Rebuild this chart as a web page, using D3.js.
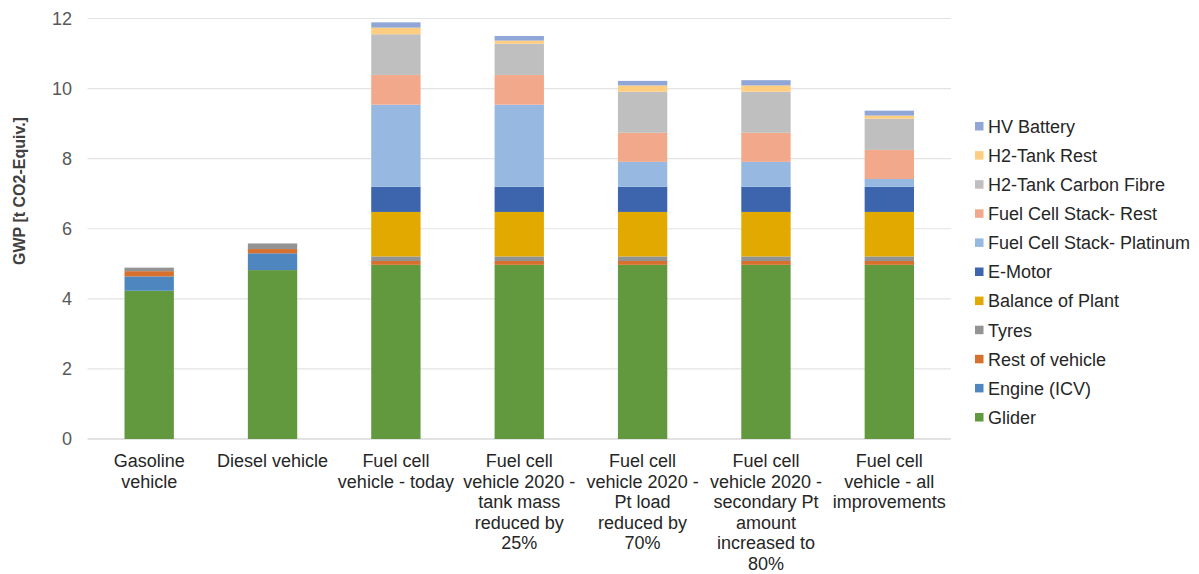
<!DOCTYPE html>
<html>
<head>
<meta charset="utf-8">
<script src="https://cdn.jsdelivr.net/npm/d3@7"></script>
<style>
  html, body { margin: 0; padding: 0; background: #fff; }
  svg { display: block; font-family: "Liberation Sans", Arial, sans-serif; }
</style>
</head>
<body>
<svg id="chart" width="1199" height="574"></svg>
<script>
// Vehicle variants (x axis), label lines split for wrapping
const categories = [
  ["Gasoline", "vehicle"],
  ["Diesel vehicle"],
  ["Fuel cell", "vehicle - today"],
  ["Fuel cell", "vehicle 2020 -", "tank mass", "reduced by", "25%"],
  ["Fuel cell", "vehicle 2020 -", "Pt load", "reduced by", "70%"],
  ["Fuel cell", "vehicle 2020 -", "secondary Pt", "amount", "increased to", "80%"],
  ["Fuel cell", "vehicle - all", "improvements"]
];

// Component contributions, t CO2-equiv., stacked bottom to top
const glider       = [4.23, 4.82, 4.97, 4.97, 4.97, 4.97, 4.97];
const engineICV    = [0.41, 0.48, 0, 0, 0, 0, 0];
const restVehicle  = [0.15, 0.12, 0.11, 0.11, 0.11, 0.11, 0.11];
const tyres        = [0.10, 0.16, 0.13, 0.13, 0.13, 0.13, 0.13];
const balancePlant = [0, 0, 1.27, 1.27, 1.27, 1.27, 1.27];
const eMotor       = [0, 0, 0.72, 0.72, 0.72, 0.72, 0.72];
const fcPlatinum   = [0, 0, 2.34, 2.34, 0.71, 0.71, 0.22];
const fcRest       = [0, 0, 0.85, 0.85, 0.83, 0.83, 0.83];
const h2Carbon     = [0, 0, 1.16, 0.89, 1.17, 1.17, 0.89];
const h2Rest       = [0, 0, 0.19, 0.09, 0.18, 0.18, 0.09];
const hvBattery    = [0, 0, 0.15, 0.13, 0.13, 0.15, 0.14];

const seriesNames = ["Glider", "Engine (ICV)", "Rest of vehicle", "Tyres", "Balance of Plant",
  "E-Motor", "Fuel Cell Stack- Platinum", "Fuel Cell Stack- Rest", "H2-Tank Carbon Fibre",
  "H2-Tank Rest", "HV Battery"];
const seriesValues = [glider, engineICV, restVehicle, tyres, balancePlant, eMotor,
  fcPlatinum, fcRest, h2Carbon, h2Rest, hvBattery];
const seriesColors = ["#62993e", "#4e86c0", "#d6702c", "#939393", "#e2a900", "#3c65ad",
  "#97b8e0", "#f1a88b", "#bfbfbf", "#ffcd80", "#8fa6d7"];

const yTicks = [0, 2, 4, 6, 8, 10, 12];

// Build table rows for d3.stack
const rows = categories.map((c, i) => {
  const r = { idx: i };
  seriesNames.forEach((n, s) => { r[n] = seriesValues[s][i]; });
  return r;
});

const svg = d3.select("#chart");
const plot = { left: 87.5, right: 951, top: 18.5, bottom: 439 };

const x = d3.scaleBand()
  .domain(d3.range(categories.length))
  .range([plot.left, plot.right])
  .paddingInner(0.6)
  .paddingOuter(0.3);

const y = d3.scaleLinear().domain([0, 12]).range([plot.bottom, plot.top]);

// Gridlines
svg.append("g").selectAll("line")
  .data(yTicks)
  .join("line")
  .attr("x1", plot.left).attr("x2", plot.right)
  .attr("y1", d => y(d)).attr("y2", d => y(d))
  .attr("stroke", d => d === 0 ? "#d9d9d9" : "#e3e3e3")
  .attr("stroke-width", d => d === 0 ? 1.5 : 1.2);

// Y axis tick labels
const yAxis = svg.append("g")
  .attr("transform", `translate(72,0)`)
  .call(d3.axisLeft(y).tickValues(yTicks).tickSize(0).tickPadding(0));
yAxis.select(".domain").remove();
yAxis.selectAll("text")
  .attr("font-size", 18)
  .attr("fill", "#595959")
  .attr("font-family", "Liberation Sans, Arial, sans-serif");

// Y axis title
svg.append("text")
  .attr("transform", `translate(25,191) rotate(-90)`)
  .attr("text-anchor", "middle")
  .attr("font-size", 16)
  .attr("font-weight", "bold")
  .attr("fill", "#404040")
  .text("GWP [t CO2-Equiv.]");

// Stacked bars
const stack = d3.stack().keys(seriesNames);
const layers = stack(rows);

svg.append("g").selectAll("g")
  .data(layers)
  .join("g")
  .attr("fill", (d, i) => seriesColors[i])
  .selectAll("rect")
  .data(d => d)
  .join("rect")
  .attr("x", d => x(d.data.idx))
  .attr("width", x.bandwidth())
  .attr("y", d => y(d[1]))
  .attr("height", d => Math.max(0, y(d[0]) - y(d[1])));

// Category labels
const xLab = svg.append("g").selectAll("text")
  .data(categories)
  .join("text")
  .attr("text-anchor", "middle")
  .attr("font-size", 18)
  .attr("fill", "#262626")
  .attr("x", (d, i) => x(i) + x.bandwidth() / 2)
  .attr("y", 467);
xLab.selectAll("tspan")
  .data(d => d)
  .join("tspan")
  .attr("x", function () { return d3.select(this.parentNode).attr("x"); })
  .attr("dy", (d, i) => i === 0 ? 0 : 20.6)
  .text(d => d);

// Legend, top entry = last stacked series
const legendOrder = seriesNames.map((n, i) => i).reverse();
const legend = svg.append("g").selectAll("g")
  .data(legendOrder)
  .join("g")
  .attr("transform", (d, i) => `translate(975,${126.5 + i * 29.1})`);
legend.append("rect")
  .attr("x", 0).attr("y", -4.5)
  .attr("width", 8.5).attr("height", 8.5)
  .attr("fill", d => seriesColors[d]);
legend.append("text")
  .attr("x", 13)
  .attr("y", 0)
  .attr("dy", "0.35em")
  .attr("font-size", 18)
  .attr("fill", "#262626")
  .text(d => seriesNames[d]);
</script>
</body>
</html>
